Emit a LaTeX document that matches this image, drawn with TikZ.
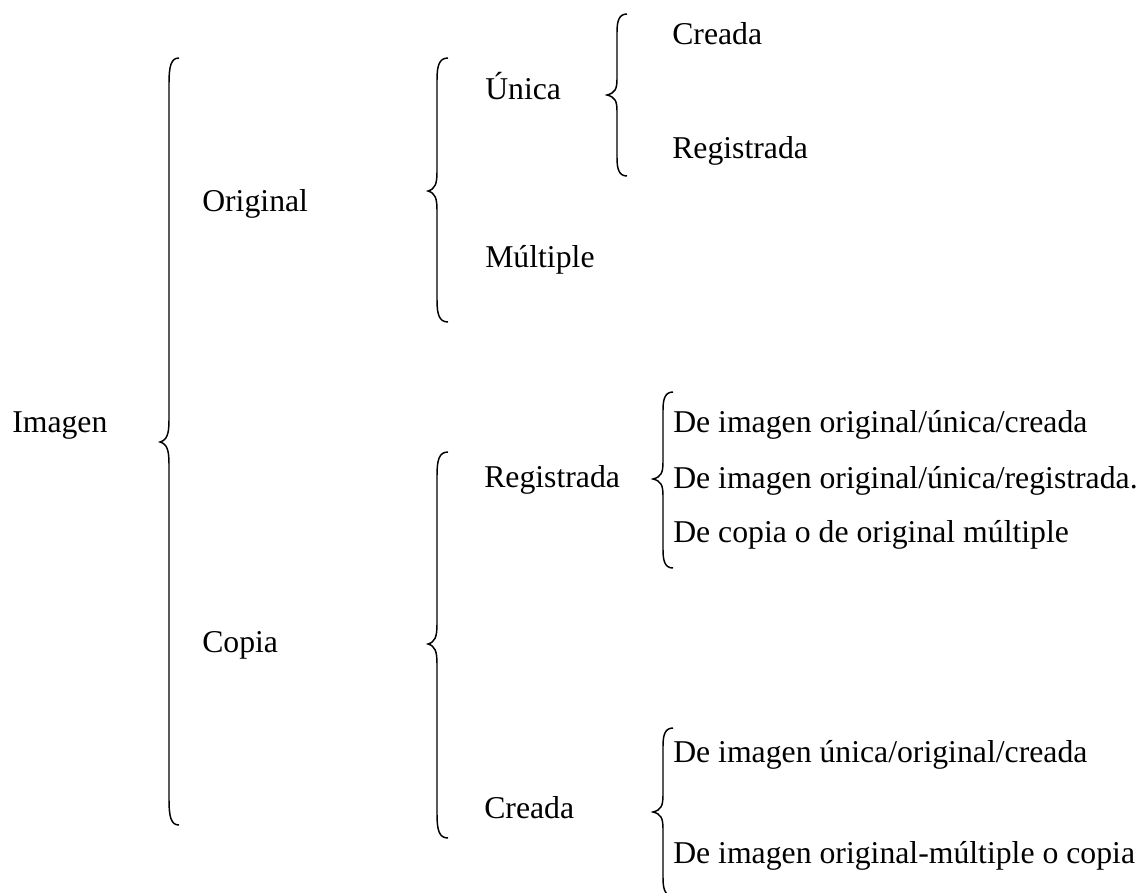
\documentclass[tikz,border=0pt]{standalone}
\usepackage{fontspec}
\setmainfont{Liberation Serif}
\usepackage{tikz}

\begin{document}
\begin{tikzpicture}[x=0.75pt,y=-0.75pt,
  etiqueta/.style={anchor=base west,inner sep=0,font=\fontsize{23.8}{28}\selectfont},
  llave/.style={line width=1.1pt}]
\useasboundingbox (0,0) rectangle (1148,892);
\draw[llave] (179,58) .. controls (171,58) and (169,66) .. (169,84) -- (169,420) .. controls (169,434) and (167,440) .. (160,442) .. controls (167,444) and (169,450) .. (169,464) -- (169,799) .. controls (169,817) and (171,825) .. (179,825);
\node[etiqueta] (imagen) at (12,432) {Imagen};
\node[etiqueta] (original) at (202,211) {Original};
\node[etiqueta] (copia) at (202,652) {Copia};
\draw[llave] (448,58) .. controls (439,58) and (437,66) .. (437,80) -- (437,172) .. controls (437,184) and (435,189) .. (428,191) .. controls (435,193) and (437,198) .. (437,210) -- (437,300) .. controls (437,314) and (439,322) .. (448,322);
\node[etiqueta] (unica) at (485,99) {Única};
\node[etiqueta] (multiple) at (485,267) {Múltiple};
\draw[llave] (627,14) .. controls (619,14) and (617,21) .. (617,32) -- (617,79) .. controls (617,89) and (615,93) .. (607,95) .. controls (615,97) and (617,101) .. (617,111) -- (617,158) .. controls (617,169) and (619,176) .. (627,176);
\node[etiqueta] (creadaU) at (672,45) {Creada};
\node[etiqueta] (registradaU) at (672,158) {Registrada};
\draw[llave] (448,452) .. controls (439,452) and (437,460) .. (437,476) -- (437,624) .. controls (437,637) and (435,642) .. (428,644) .. controls (435,646) and (437,651) .. (437,664) -- (437,814) .. controls (437,830) and (439,838) .. (448,838);
\node[etiqueta] (registrada) at (484,487) {Registrada};
\node[etiqueta] (creada) at (484,818) {Creada};
\draw[llave] (673,392) .. controls (665,392) and (663,399) .. (663,410) -- (663,462) .. controls (663,473) and (661,477) .. (653,479) .. controls (661,481) and (663,485) .. (663,496) -- (663,550) .. controls (663,561) and (665,568) .. (673,568);
\node[etiqueta] (regA) at (673,432) {De imagen original/única/creada};
\node[etiqueta] (regB) at (673,488) {De imagen original/única/registrada.};
\node[etiqueta] (regC) at (673,542) {De copia o de original múltiple};
\draw[llave] (673,728) .. controls (665,728) and (663,735) .. (663,746) -- (663,795) .. controls (663,806) and (661,810) .. (653,812) .. controls (661,814) and (663,818) .. (663,829) -- (663,878) .. controls (663,889) and (665,896) .. (673,896);
\node[etiqueta] (creA) at (673,762) {De imagen única/original/creada};
\node[etiqueta] (creB) at (673,863) {De imagen original-múltiple o copia};
\end{tikzpicture}
\end{document}
